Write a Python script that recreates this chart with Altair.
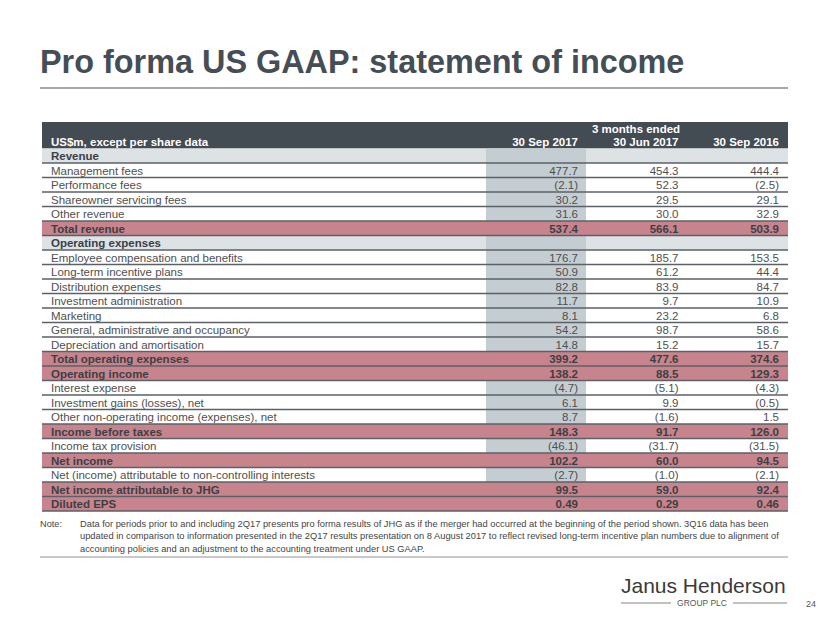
import altair as alt
import pandas as pd

title_text = "Pro forma US GAAP: statement of income"
stub_header = "US$m, except per share data"
period_header = "3 months ended"
columns = ["30 Sep 2017", "30 Jun 2017", "30 Sep 2016"]

labels = [
    "Revenue", "Management fees", "Performance fees", "Shareowner servicing fees",
    "Other revenue", "Total revenue", "Operating expenses",
    "Employee compensation and benefits", "Long-term incentive plans",
    "Distribution expenses", "Investment administration", "Marketing",
    "General, administrative and occupancy", "Depreciation and amortisation",
    "Total operating expenses", "Operating income", "Interest expense",
    "Investment gains (losses), net", "Other non-operating income (expenses), net",
    "Income before taxes", "Income tax provision", "Net income",
    "Net (income) attributable to non-controlling interests",
    "Net income attributable to JHG", "Diluted EPS",
]
kinds = [
    "section", "item", "item", "item", "item", "total", "section",
    "item", "item", "item", "item", "item", "item", "item",
    "total", "total", "item", "item", "item", "total", "item", "total",
    "item", "total", "total",
]
sep17 = [None, 477.7, -2.1, 30.2, 31.6, 537.4, None, 176.7, 50.9, 82.8, 11.7, 8.1,
         54.2, 14.8, 399.2, 138.2, -4.7, 6.1, 8.7, 148.3, -46.1, 102.2, -2.7, 99.5, 0.49]
jun17 = [None, 454.3, 52.3, 29.5, 30.0, 566.1, None, 185.7, 61.2, 83.9, 9.7, 23.2,
         98.7, 15.2, 477.6, 88.5, -5.1, 9.9, -1.6, 91.7, -31.7, 60.0, -1.0, 59.0, 0.29]
sep16 = [None, 444.4, -2.5, 29.1, 32.9, 503.9, None, 153.5, 44.4, 84.7, 10.9, 6.8,
         58.6, 15.7, 374.6, 129.3, -4.3, -0.5, 1.5, 126.0, -31.5, 94.5, -2.1, 92.4, 0.46]

note_label = "Note:"
note_lines = [
    "Data for periods prior to and including 2Q17 presents pro forma results of JHG as if the merger had occurred at the beginning of the period shown. 3Q16 data has been",
    "updated in comparison to information presented in the 2Q17 results presentation on 8 August 2017 to reflect revised long-term incentive plan numbers due to alignment of",
    "accounting policies and an adjustment to the accounting treatment under US GAAP.",
]
logo_name = "Janus Henderson"
logo_sub = "GROUP PLC"
page_no = "24"


def fmt(v, decimals):
    s = f"{abs(v):.{decimals}f}"
    return f"({s})" if v < 0 else s


rows = pd.DataFrame({"row": list(range(len(labels))), "label": labels, "kind": kinds})
rows["row_end"] = rows["row"] + 1

recs = []
for col, series in zip(columns, [sep17, jun17, sep16]):
    for i, v in enumerate(series):
        if v is None:
            continue
        dec = 2 if labels[i] == "Diluted EPS" else 1
        recs.append({"row": i, "row_end": i + 1, "col": col,
                     "text": fmt(v, dec), "kind": kinds[i]})
vals = pd.DataFrame(recs)

FONT = "Liberation Sans"
DARK = "#434b53"
LIGHT = "#dde2e5"
BAND = "#c4cdd2"
PINK = "#c8848c"
LINE = "#5b6167"
TEXT = "#4f4f4f"
BOLDTEXT = "#3b4046"

W, H = 814, 607
TL, TR = 34, 780

yscale = alt.Scale(domain=[0, len(labels)], range=[140.5, 503], nice=False, zero=False)
xscale = alt.Scale(type="point", domain=columns, range=[570, 771], padding=0)

Y = alt.Y("row:Q", scale=yscale, axis=None)
Y2 = alt.Y2("row_end:Q")
YB = alt.Y("row_end:Q", scale=yscale, axis=None)
XC = alt.X("col:N", scale=xscale, axis=None)

one = pd.DataFrame({"t": [title_text]})

header_band = alt.Chart(one).mark_rect(color=DARK).encode(
    x=alt.value(TL), x2=alt.value(TR), y=alt.value(114), y2=alt.value(140.5))

section_bg = alt.Chart(rows).transform_filter("datum.kind == 'section'").mark_rect(
    color=LIGHT).encode(x=alt.value(TL), x2=alt.value(TR), y=Y, y2=Y2)

col_band = alt.Chart(rows).mark_rect(color=BAND).encode(
    x=alt.value(478), x2=alt.value(578), y=Y, y2=Y2)

pink_bg = alt.Chart(rows).transform_filter("datum.kind == 'total'").mark_rect(
    color=PINK).encode(x=alt.value(TL), x2=alt.value(TR), y=Y, y2=Y2)

row_lines = alt.Chart(rows).mark_rule(color=LINE, strokeWidth=1.3).encode(
    x=alt.value(TL), x2=alt.value(TR), y=YB)

label_item = alt.Chart(rows).transform_filter("datum.kind == 'item'").mark_text(
    align="left", baseline="alphabetic", dy=-3, font=FONT, fontSize=11.5, color=TEXT
).encode(x=alt.value(43), y=YB, text="label:N")

label_bold = alt.Chart(rows).transform_filter("datum.kind != 'item'").mark_text(
    align="left", baseline="alphabetic", dy=-3, font=FONT, fontSize=11.5,
    fontWeight="bold", color=BOLDTEXT
).encode(x=alt.value(43), y=YB, text="label:N")

val_item = alt.Chart(vals).transform_filter("datum.kind == 'item'").mark_text(
    align="right", baseline="alphabetic", dy=-3, font=FONT, fontSize=11.5, color=TEXT
).encode(x=XC, y=YB, text="text:N")

val_bold = alt.Chart(vals).transform_filter("datum.kind != 'item'").mark_text(
    align="right", baseline="alphabetic", dy=-3, font=FONT, fontSize=11.5,
    fontWeight="bold", color=BOLDTEXT
).encode(x=XC, y=YB, text="text:N")

col_heads = alt.Chart(pd.DataFrame({"col": columns})).mark_text(
    align="right", baseline="alphabetic", font=FONT, fontSize=11.5,
    fontWeight="bold", color="white"
).encode(x=XC, y=alt.value(138), text="col:N")

period_head = alt.Chart(pd.DataFrame({"t": [period_header]})).mark_text(
    align="center", baseline="alphabetic", font=FONT, fontSize=11.5,
    fontWeight="bold", color="white"
).encode(x=alt.value(628), y=alt.value(125), text="t:N")

stub_head = alt.Chart(pd.DataFrame({"t": [stub_header]})).mark_text(
    align="left", baseline="alphabetic", font=FONT, fontSize=11.5,
    fontWeight="bold", color="white"
).encode(x=alt.value(43), y=alt.value(138), text="t:N")

title = alt.Chart(one).mark_text(
    align="left", baseline="alphabetic", font=FONT, fontSize=32.4,
    fontWeight="bold", color="#454d55"
).encode(x=alt.value(32), y=alt.value(65), text="t:N")

title_rule = alt.Chart(one).mark_rule(color="#a4a8ac", strokeWidth=2).encode(
    x=alt.value(32), x2=alt.value(780), y=alt.value(80))

note_l = alt.Chart(pd.DataFrame({"t": [note_label]})).mark_text(
    align="left", baseline="alphabetic", font=FONT, fontSize=9.2, color="#444"
).encode(x=alt.value(32), y=alt.value(518.5), text="t:N")

note_df = pd.DataFrame({"t": ["\n".join(note_lines)]})
note_txt = alt.Chart(note_df).mark_text(
    align="left", baseline="alphabetic", font=FONT, fontSize=9.3, color="#444",
    lineBreak="\n", lineHeight=12.5
).encode(x=alt.value(72), y=alt.value(518.5), text="t:N")

note_rule = alt.Chart(one).mark_rule(color="#8f9499", strokeWidth=1.2).encode(
    x=alt.value(32), x2=alt.value(780), y=alt.value(549))

logo = alt.Chart(pd.DataFrame({"t": [logo_name]})).mark_text(
    align="left", baseline="alphabetic", font=FONT, fontSize=21, color="#3a3a3a"
).encode(x=alt.value(613), y=alt.value(585), text="t:N")

logo_sub_t = alt.Chart(pd.DataFrame({"t": [logo_sub]})).mark_text(
    align="center", baseline="alphabetic", font=FONT, fontSize=8.5, color="#555"
).encode(x=alt.value(694), y=alt.value(598), text="t:N")

logo_rule_l = alt.Chart(one).mark_rule(color="#666", strokeWidth=0.8).encode(
    x=alt.value(613), x2=alt.value(663), y=alt.value(595))
logo_rule_r = alt.Chart(one).mark_rule(color="#666", strokeWidth=0.8).encode(
    x=alt.value(725), x2=alt.value(779), y=alt.value(595))

page = alt.Chart(pd.DataFrame({"t": [page_no]})).mark_text(
    align="left", baseline="alphabetic", font=FONT, fontSize=9, color="#555"
).encode(x=alt.value(798), y=alt.value(599), text="t:N")

chart = alt.layer(
    header_band, section_bg, col_band, pink_bg, row_lines,
    label_item, label_bold, val_item, val_bold,
    col_heads, period_head, stub_head,
    title, title_rule, note_l, note_txt, note_rule,
    logo, logo_sub_t, logo_rule_l, logo_rule_r, page,
).properties(
    width=W, height=H, padding=0,
    autosize=alt.AutoSizeParams(type="none"),
).configure_view(stroke=None)

chart.save("out.html", embed_options={"renderer": "svg", "actions": False})
